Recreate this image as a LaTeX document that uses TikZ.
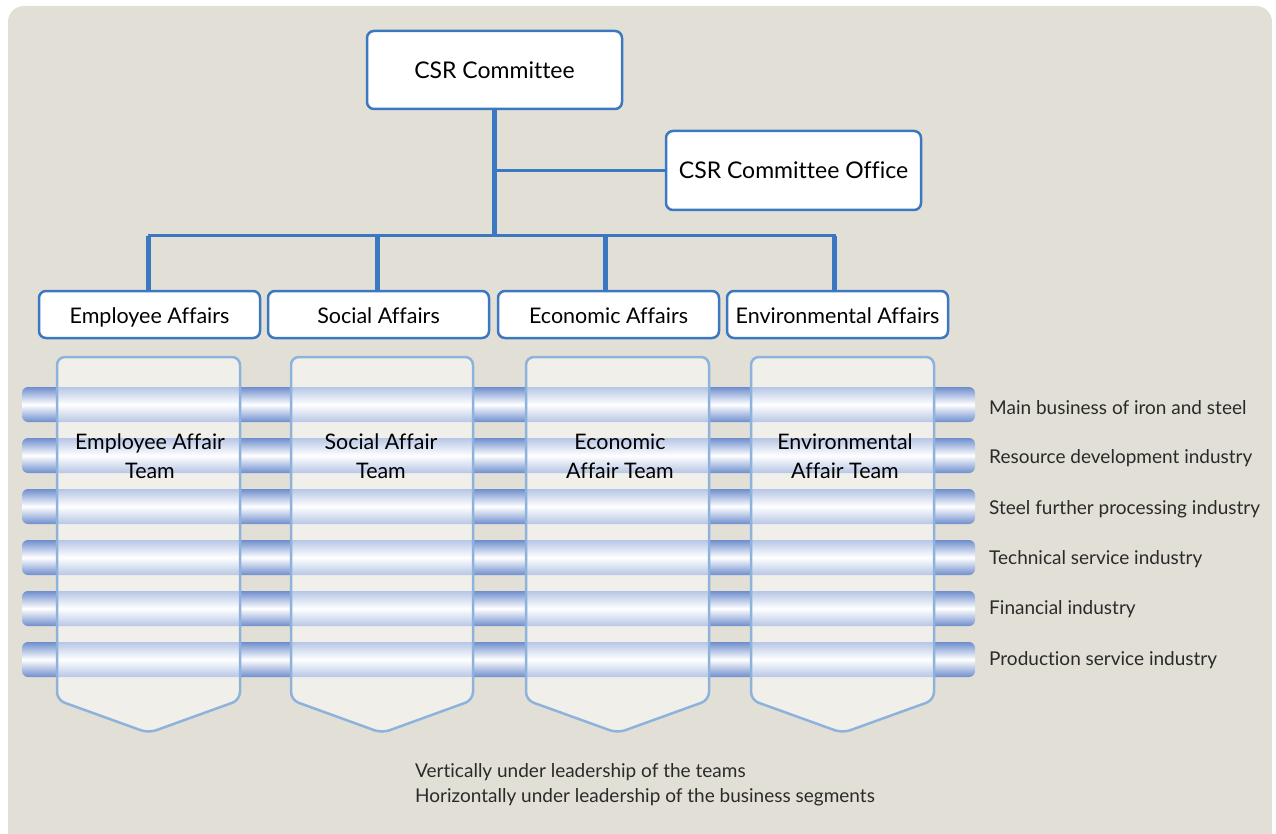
\documentclass[tikz,border=0pt]{standalone}
\usepackage{fontspec}
\setmainfont{Lato}[Ligatures=NoCommon]
\definecolor{bgcol}{HTML}{E2E0D6}
\definecolor{boxblue}{HTML}{3B78C1}
\definecolor{teamline}{HTML}{8DB3DC}
\definecolor{tubeblue}{HTML}{6F8ECD}
\definecolor{labcol}{HTML}{2A2A2A}
\begin{document}
\begin{tikzpicture}[x=1pt,y=-1pt,
  box/.style={draw=boxblue, line width=2.5pt, rounded corners=7pt, fill=white, inner sep=0pt, text=black},
  topbox/.style={box, minimum width=255pt, minimum height=78pt, font=\fontsize{23}{27}\selectfont},
  affbox/.style={box, minimum width=221pt, minimum height=47pt, text height=18pt, text depth=0pt,
    font=\fontsize{21.5}{25}\selectfont},
  trunk/.style={draw=boxblue, line width=5pt},
  thin/.style={draw=boxblue, line width=3pt},
  teamshape/.style={draw=teamline, line width=2.5pt, fill=white, fill opacity=0.5, rounded corners=8pt},
  teamtext/.style={align=center, font=\fontsize{21.4}{29}\selectfont, text=black},
  tube/.style={top color=tubeblue, bottom color=tubeblue, middle color=white, rounded corners=6pt},
  seglabel/.style={anchor=west, inner sep=0pt, font=\fontsize{19}{22}\selectfont, text=labcol},
  note/.style={anchor=west, inner sep=0pt, align=left, font=\fontsize{19}{25}\selectfont, text=labcol}
]
\useasboundingbox (0,0) rectangle (1276,834);
\begin{scope}
  \clip (0,0) rectangle (1276,834);
  \fill[bgcol, rounded corners=16pt] (8,6) rectangle (1272,870);
\end{scope}

% top boxes
\node[topbox] (csr) at (494.5,70) {CSR Committee};
\node[topbox, minimum height=79pt] (office) at (793.5,170.5) {CSR Committee Office};
\coordinate (bus) at (494.5,236);

% affairs boxes
\node[affbox] (emp) at (149.5,314.5) {Employee Affairs};
\node[affbox] (soc) at (378.5,314.5) {Social Affairs};
\node[affbox] (eco) at (608.5,314.5) {Economic Affairs};
\node[affbox] (env) at (837.5,314.5) {Environmental Affairs};

% connectors
\draw[thin] (csr.south |- office.west) -- (office.west);
\draw[thin] ([xshift=-1.5pt]emp.north |- bus) -- ([xshift=-2pt]env.north |- bus);
\draw[trunk] (csr.south) -- (bus);
\foreach \n/\dx in {emp/-1.5,soc/-1.5,eco/-3.5,env/-3.5}
  \draw[trunk] ([xshift=\dx pt]\n.north |- bus) -- ([xshift=\dx pt]\n.north);

% tubes
\foreach \y in {387,438,489,540,591,642}
  \shade[tube] (22,\y) rectangle (975,\y+35);

% team shapes
\foreach \xl/\xr in {57/240,291/473,526/709,751/934}{
  \path[teamshape] (\xl,357) -- (\xl,700) -- ({(\xl+\xr)/2},733) -- (\xr,700) -- (\xr,357) -- cycle;
}

\node[teamtext] (t1) at (150,456.5) {Employee Affair\\Team};
\node[teamtext] (t2) at (381,456.5) {Social Affair\\Team};
\node[teamtext] (t3) at (620,456.5) {Economic\\Affair Team};
\node[teamtext] (t4) at (845,456.5) {Environmental\\Affair Team};

% segment labels
\node[seglabel] (s1) at (989,408) {Main business of iron and steel};
\node[seglabel] (s2) at (989,458) {Resource development industry};
\node[seglabel] (s3) at (989,509) {Steel further processing industry};
\node[seglabel] (s4) at (989,559) {Technical service industry};
\node[seglabel] (s5) at (989,609) {Financial industry};
\node[seglabel] (s6) at (989,660) {Production service industry};

\node[note] (n1) at (415,784.5) {Vertically under leadership of the teams\\Horizontally under leadership of the business segments};
\end{tikzpicture}
\end{document}
